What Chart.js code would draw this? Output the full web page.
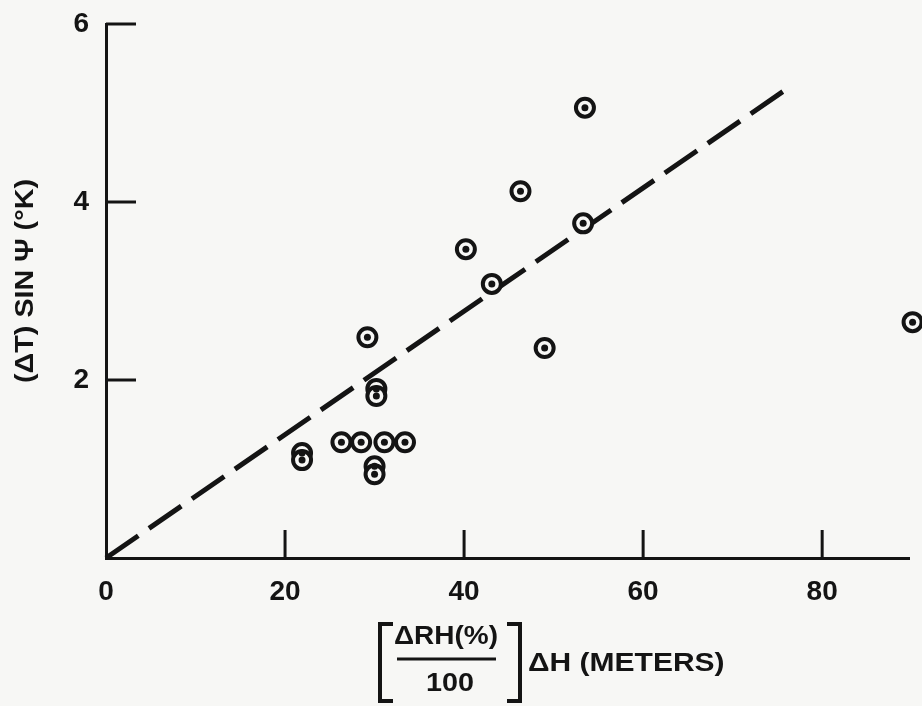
<!DOCTYPE html>
<html><head><meta charset="utf-8">
<script src="https://cdn.jsdelivr.net/npm/chart.js@4/dist/chart.umd.min.js"></script>
<style>html,body{margin:0;padding:0;background:#f7f7f5;overflow:hidden}</style>
</head><body>
<canvas id="c" width="922" height="706" style="display:block;width:922px;height:706px"></canvas>
<script>
// ---- data ----
const xTickValues = [0, 20, 40, 60, 80];
const yTickValues = [2, 4, 6];
const obsX = [21.9, 21.9, 26.3, 28.5, 31.1, 33.4, 30.0, 30.0, 30.2, 30.2, 29.2, 40.2, 43.1, 46.3, 49.0, 53.3, 53.5, 90.1];
const obsY = [1.18, 1.10, 1.30, 1.30, 1.30, 1.30, 1.03, 0.94, 1.90, 1.82, 2.48, 3.47, 3.08, 4.12, 2.36, 3.76, 5.06, 2.65];
const fitX = [0, 75.6];
const fitY = [0, 5.24];
const xTitleNum = 'ΔRH(%)';
const xTitleDen = '100';
const xTitleRest = 'ΔH (METERS)';
const yTitle = '(ΔT) SIN Ψ (°K)';

const INK = '#141414';
const BG = '#f7f7f5';
const FONT = '"Liberation Sans", Arial, Helvetica, sans-serif';

const obsPts = obsX.map((x, i) => ({x, y: obsY[i]}));
const fitPts = fitX.map((x, i) => ({x, y: fitY[i]}));

const decor = {
  id: 'decor',
  beforeDraw(chart) {
    const ctx = chart.ctx;
    ctx.save();
    ctx.fillStyle = BG;
    ctx.fillRect(0, 0, chart.width, chart.height);
    ctx.restore();
  },
  afterDraw(chart) {
    const ctx = chart.ctx;
    const xs = chart.scales.x, ys = chart.scales.y;
    const area = chart.chartArea;
    ctx.save();
    ctx.strokeStyle = INK;
    ctx.fillStyle = INK;
    ctx.lineWidth = 3;
    ctx.lineCap = 'butt';
    // inward tick marks
    yTickValues.forEach(v => {
      const py = ys.getPixelForValue(v);
      ctx.beginPath(); ctx.moveTo(area.left, py); ctx.lineTo(area.left + 30, py); ctx.stroke();
    });
    xTickValues.forEach(v => {
      if (v === 0) return;
      const px = xs.getPixelForValue(v);
      ctx.beginPath(); ctx.moveTo(px, area.bottom); ctx.lineTo(px, area.bottom - 28); ctx.stroke();
    });
    // y title
    ctx.save();
    ctx.translate(26, 281);
    ctx.rotate(-Math.PI / 2);
    ctx.scale(1.15, 1);
    ctx.font = 'bold 25px ' + FONT;
    ctx.textAlign = 'center';
    ctx.textBaseline = 'middle';
    ctx.fillText(yTitle, 0, 0);
    ctx.restore();
    // x title: bracketed fraction
    ctx.font = 'bold 25px ' + FONT;
    ctx.textBaseline = 'middle';
    ctx.save();
    ctx.translate(446, 637); ctx.scale(1.12, 1);
    ctx.textAlign = 'center'; ctx.fillText(xTitleNum, 0, 0);
    ctx.restore();
    ctx.save();
    ctx.translate(450, 684); ctx.scale(1.15, 1);
    ctx.textAlign = 'center'; ctx.fillText(xTitleDen, 0, 0);
    ctx.restore();
    ctx.lineWidth = 3;
    ctx.beginPath(); ctx.moveTo(397, 659); ctx.lineTo(496, 659); ctx.stroke();
    ctx.lineWidth = 4;
    ctx.beginPath(); ctx.moveTo(393, 624); ctx.lineTo(380, 624); ctx.lineTo(380, 701); ctx.lineTo(393, 701); ctx.stroke();
    ctx.beginPath(); ctx.moveTo(507, 624); ctx.lineTo(520, 624); ctx.lineTo(520, 701); ctx.lineTo(507, 701); ctx.stroke();
    ctx.save();
    ctx.translate(528, 664); ctx.scale(1.2, 1);
    ctx.textAlign = 'left'; ctx.fillText(xTitleRest, 0, 0);
    ctx.restore();
    ctx.restore();
  }
};

new Chart(document.getElementById('c'), {
  type: 'scatter',
  data: {
    datasets: [
      { label: 'dots', data: obsPts, order: 0, pointRadius: 3.5, pointBackgroundColor: INK, pointBorderWidth: 0, clip: false },
      { label: 'obs', data: obsPts, order: 1, pointRadius: 9, pointBackgroundColor: BG, pointBorderColor: INK, pointBorderWidth: 4, clip: false },
      { label: 'fit', data: fitPts, order: 2, showLine: true, pointRadius: 0, borderColor: INK, borderWidth: 5, borderDash: [39.2, 13], borderCapStyle: 'butt', clip: false }
    ]
  },
  options: {
    responsive: false,
    devicePixelRatio: 1,
    animation: false,
    events: [],
    layout: { padding: { top: 24, right: 9, left: 0, bottom: 0 } },
    plugins: { legend: { display: false }, tooltip: { enabled: false } },
    scales: {
      x: {
        type: 'linear', min: 0, max: 89.7,
        afterBuildTicks: s => { s.ticks = xTickValues.map(v => ({value: v})); },
        afterFit: s => { s.height = 148; s.paddingLeft = 0; s.paddingRight = 0; },
        grid: { drawOnChartArea: false, drawTicks: false },
        border: { display: true, width: 3, color: INK },
        ticks: { color: INK, padding: 17, maxRotation: 0, font: { family: FONT, size: 28, weight: 'bold' } }
      },
      y: {
        type: 'linear', min: 0, max: 6,
        afterBuildTicks: s => { s.ticks = yTickValues.map(v => ({value: v})); },
        afterFit: s => { s.width = 106; s.paddingTop = 0; s.paddingBottom = 0; },
        grid: { drawOnChartArea: false, drawTicks: false },
        border: { display: true, width: 3, color: INK },
        ticks: { color: INK, padding: 17, font: { family: FONT, size: 28, weight: 'bold' } }
      }
    }
  },
  plugins: [decor]
});
</script>
</body></html>
